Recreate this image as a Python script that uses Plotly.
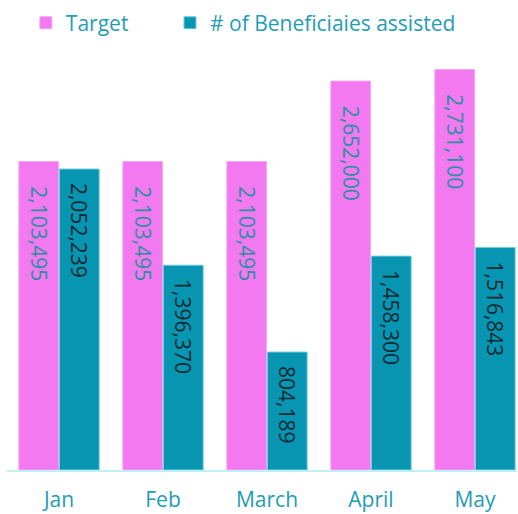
import plotly.graph_objects as go

months = ["Jan", "Feb", "March", "April", "May"]
target = [2103495, 2103495, 2103495, 2652000, 2731100]
assisted = [2052239, 1396370, 804189, 1458300, 1516843]

PINK = "#F279F0"
TEAL = "#0795B2"
LABEL_TEAL = "#1E9DB3"
NB = "\u00a0"

fig = go.Figure()
fig.add_trace(go.Bar(
    x=months, y=target, name="Target", legend="legend",
    marker=dict(color=PINK, line=dict(width=1, color="#F7A6F5")),
    text=[f"{v:,}" for v in target], texttemplate=NB * 4 + "%{text}",
    textposition="inside", insidetextanchor="end", textangle=90,
    textfont=dict(family="Open Sans", size=21, color="#2A8FA3"),
    constraintext="none",
))
fig.add_trace(go.Bar(
    x=months, y=assisted, name="# of Beneficiaies assisted", legend="legend2",
    marker=dict(color=TEAL, line=dict(width=1, color="#6FCDE0")),
    text=[f"{v:,}" for v in assisted], texttemplate=NB * 2 + "%{text}",
    textposition="inside", insidetextanchor="end", textangle=90,
    textfont=dict(family="Open Sans", size=21, color="#0E2A33"),
    constraintext="none",
))

legend_style = dict(orientation="h", y=0.995, xref="paper", yref="container",
                    yanchor="top", xanchor="left", bgcolor="rgba(0,0,0,0)",
                    font=dict(size=21, color=LABEL_TEAL))

fig.update_layout(
    width=518, height=514,
    margin=dict(l=7, r=1, t=40, b=41),
    paper_bgcolor="white", plot_bgcolor="white",
    barmode="group", bargap=0.22, bargroupgap=0.02,
    font=dict(family="Open Sans", color=LABEL_TEAL),
    showlegend=True,
    legend=dict(x=0.037, **legend_style),
    legend2=dict(x=0.3196, **legend_style),
    xaxis=dict(range=[-0.5, 4.404], showline=True, linecolor="#BFEFF6", linewidth=2,
               showgrid=False, ticks="", tickfont=dict(size=21, color=LABEL_TEAL),
               ticklabelstandoff=10),
    yaxis=dict(range=[0, 2900700], visible=False, showgrid=False, zeroline=False),
)

fig.write_html("out.html")
